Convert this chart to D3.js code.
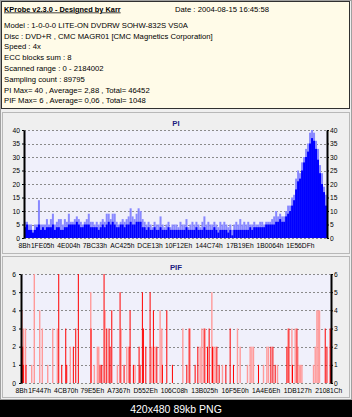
<!DOCTYPE html>
<html>
<head>
<meta charset="utf-8">
<script src="https://cdn.jsdelivr.net/npm/d3@7"></script>
<style>
body{margin:0;background:#000;}
svg{display:block;}
text{font-family:"Liberation Sans",Arial,sans-serif;}
</style>
</head>
<body>
<div id="chart"></div>
<script>
var headerTitle="KProbe v2.3.0 - Designed by Karr";
var headerDate="Date : 2004-08-15 16:45:58";
var headerLines=[
	"Model : 1-0-0-0 LITE-ON DVDRW SOHW-832S  VS0A",
	"Disc : DVD+R , CMC MAGR01 [CMC Magnetics Corporation]",
	"Speed : 4x",
	"ECC blocks sum : 8",
	"Scanned range : 0 - 2184002",
	"Sampling count : 89795",
	"PI Max= 40 , Average= 2,88 , Total= 46452",
	"PIF Max= 6 , Average= 0,06 , Total= 1048"
];
var footerText="420x480 89kb PNG";

// LBA range of the scan
var lbaStart=0x8B;
var lbaEnd=2184002;

// x tick labels (hex LBA)
var piTicks=[0x8B,0x1FE05,0x4E004,0x7BC33,0xAC425,0xDCE13,0x10F12E,0x144C74,0x17B19E,0x1B0064,0x1E56DF];
var pifTicks=[0x8B,0x1F447,0x4CB70,0x79E5E,0xA7367,0xD552E,0x106C08,0x13B025,0x16F5E0,0x1A4E6E,0x1DB127,0x21081C];
var piYTicks=[0,5,10,15,20,25,30,35,40];
var pifYTicks=[0,1,2,3,4,5,6];

// PI per sample bin (even bins over the scanned range): peak and body
var piPeak=[
	6,6,5,5,3,5,5,14,5,5,
	5,7,5,7,9,5,6,7,7,5,7,6,9,
	6,6,7,8,7,6,5,6,7,9,6,6,5,
	6,5,6,7,6,9,9,7,9,9,6,5,6,7,6,
	7,8,11,8,7,9,11,10,7,6,
	5,6,5,4,6,5,5,8,5,4,5,6,4,5,5,
	5,4,6,5,5,7,4,5,6,5,6,5,4,6,8,
	5,6,5,5,6,5,4,6,5,6,5,4,5,3,5,6,5,7,5,6,
	5,6,5,5,6,5,5,6,6,5,6,6,6,7,
	8,10,8,9,8,8,10,12,12,15,16,
	22,25,24,28,30,33,35,39,40,39,36,33,27,24,19,16
];
var piBody=[
	4,5,3,3,2,3,4,5,3,4,
	3,4,4,4,5,3,4,4,3,3,4,4,5,
	5,5,5,6,5,4,4,5,5,5,4,4,4,
	4,3,4,5,4,5,6,5,6,5,4,4,5,5,4,
	5,5,6,5,5,6,6,6,4,4,
	3,4,3,3,4,3,3,4,3,3,3,4,3,3,3,
	3,3,3,3,3,4,3,3,3,3,4,3,3,3,4,
	3,3,3,3,4,3,2,3,3,3,3,2,3,1,3,3,3,3,3,3,
	3,3,4,3,4,4,4,4,4,4,5,5,5,5,
	5,6,6,7,6,6,8,9,10,12,14,
	18,21,22,25,28,30,32,35,37,36,33,29,24,20,17,12
];

// PIF hits: LBA and count (strong and faint strokes)
var pifHitLba=[3700,7200,12100,16400,35400,265900,287100,315300,322300,368900,385800,404100,493600,557100,569100,585300,604300,620500,627600,639600,698100,726300,761500,768600,791900,832000,839100,855300,862400,879300,909600,932900,956800,996300,1027300,1066800,1168300,1184500,1226800,1245900,1290300,1313600,1325500,1348800,1379800,1396000,1443300,1473600,1496900,1673100,1760500,1774600,1790800,1873300,1887400,1912800,1943800,2143300,2155300,2178600,2183800];
var pifHitVal=[2,1,2,1,1,6,1,3,1,2,3,6,3,1,1,6,3,3,2,4,5,1,2,4,1,2,1,5,3,2,5,4,2,1,4,1,1,3,1,2,3,2,3,2,2,1,1,3,1,1,2,2,1,2,3,1,3,3,2,3,1];
var pifFaintLba=[7200,17800,31900,75600,93900,132000,150300,188400,223600,256100,347700,491500,516900,538100,547900,592300,679100,705100,745300,803800,921600,944800,980100,992100,1140100,1191600,1262100,1274100,1297300,1344600,1355900,1367800,1419300,1525100,1544100,1595600,1614600,1626600,1637900,1708400,1732300,1743600,1807100,1880400,1908600,1931800,1950900,1960000,1969200,1979100,2060900,2072800,2084800,2094000,2103200,2178600];
var pifFaintVal=[4,3,3,1,6,4,3,1,3,3,2,5,1,2,2,4,1,3,2,1,2,2,4,3,3,3,2,3,3,5,2,2,1,3,2,1,2,2,2,1,2,2,1,3,3,3,2,1,1,1,1,2,4,4,4,3];

var W=352,H=417;
var fs=7.7;
var axisFs=6.7;
var svg=d3.select("#chart").append("svg").attr("width",W).attr("height",H);

function hexLabel(v){ return v.toString(16).toUpperCase()+"h"; }
var intLabel=d3.format("d");

function drawBackground(){
	svg.append("rect").attr("x",0).attr("y",0).attr("width",W).attr("height",400).attr("fill","#efefef");
	svg.append("rect").attr("x",0.5).attr("y",0.5).attr("width",W-1).attr("height",399).attr("fill","none").attr("stroke","#a0a0a0");
	svg.append("rect").attr("x",0).attr("y",400).attr("width",W).attr("height",H-400).attr("fill","#000");
	svg.append("text").attr("x",176).attr("y",413).attr("text-anchor","middle")
		.attr("font-size",10.5).attr("fill","#fff").text(footerText);
}

function drawHeader(){
	var g=svg.append("g");
	g.append("rect").attr("x",1.5).attr("y",1.5).attr("width",348).attr("height",107)
		.attr("fill","#fffbe8").attr("stroke","#303030");
	g.append("text").attr("x",4).attr("y",11.5).attr("font-size",7.4).attr("font-weight","bold")
		.attr("text-decoration","underline").attr("fill","#000").text(headerTitle);
	g.append("text").attr("x",175).attr("y",11.5).attr("font-size",fs).attr("fill","#000").text(headerDate);
	g.selectAll("text.line").data(headerLines).enter().append("text")
		.attr("class","line")
		.attr("x",4)
		.attr("y",function(d,i){ return 27.8+i*10.8; })
		.attr("font-size",fs)
		.attr("fill","#000")
		.text(function(d){ return d; });
}

function drawPanel(c){
	var g=svg.append("g");
	g.append("rect").attr("x",2.5).attr("y",c.top+0.5).attr("width",W-5).attr("height",c.height)
		.attr("fill","#efefef").attr("stroke","#b8b8b8");
	g.append("text").attr("x",176).attr("y",c.titleY).attr("text-anchor","middle")
		.attr("font-size",7.8).attr("font-weight","bold").attr("fill","#1c1c80").text(c.title);

	var x=d3.scaleLinear().domain([lbaStart,lbaEnd]).range([c.x0,c.x1]);
	var y=d3.scaleLinear().domain([0,c.yMax]).range([c.y1,c.y0]);

	g.append("rect").attr("x",c.x0).attr("y",c.y0).attr("width",c.x1-c.x0).attr("height",c.y1-c.y0)
		.attr("fill","#f0f0fb");

	// dashed grid
	g.selectAll("line.grid").data(c.yTicks).enter().append("line")
		.attr("class","grid")
		.attr("x1",c.x0).attr("x2",c.x1)
		.attr("y1",function(d){ return Math.round(y(d))+0.5; })
		.attr("y2",function(d){ return Math.round(y(d))+0.5; })
		.attr("stroke","#8a8a8a").attr("stroke-dasharray","2,2");

	c.drawMarks(g,x,y);

	var left=g.append("g").attr("transform","translate("+c.x0+",0)")
		.call(d3.axisLeft(y).tickValues(c.yTicks).tickFormat(intLabel).tickSize(2).tickPadding(c.pad).tickSizeOuter(0));
	var right=g.append("g").attr("transform","translate("+c.x1+",0)")
		.call(d3.axisRight(y).tickValues(c.yTicks).tickFormat(intLabel).tickSize(2).tickPadding(1).tickSizeOuter(0));
	var bottom=g.append("g").attr("transform","translate(0,"+c.y1+")")
		.call(d3.axisBottom(x).tickValues(c.xTicks).tickFormat(hexLabel).tickSize(0).tickPadding(c.xPad));
	[left,right].forEach(function(a){
		a.select(".domain").attr("stroke","#000").attr("stroke-width",2);
		a.selectAll("line").attr("stroke","#000");
		a.selectAll("text").attr("font-size",axisFs).attr("font-family","Liberation Sans, Arial, sans-serif").attr("fill","#000");
	});
	bottom.select(".domain").remove();
	bottom.selectAll("text").attr("font-size",axisFs).attr("font-family","Liberation Sans, Arial, sans-serif").attr("fill","#000");
}

function drawPI(g,x,y){
	var step=(lbaEnd-lbaStart)/piPeak.length;
	var bw=x(lbaStart+step)-x(lbaStart);
	g.selectAll("rect.peak").data(piPeak).enter().append("rect")
		.attr("class","peak")
		.attr("x",function(d,i){ return x(lbaStart+i*step); })
		.attr("y",function(d){ return y(d); })
		.attr("width",bw)
		.attr("height",function(d){ return y(0)-y(d); })
		.attr("fill","#8888ff");
	g.selectAll("rect.body").data(piBody).enter().append("rect")
		.attr("class","body")
		.attr("x",function(d,i){ return x(lbaStart+i*step); })
		.attr("y",function(d){ return y(d); })
		.attr("width",bw)
		.attr("height",function(d){ return y(0)-y(d); })
		.attr("fill","#0000ff");
}

function drawPIF(g,x,y){
	g.selectAll("rect.faint").data(pifFaintVal).enter().append("rect")
		.attr("class","faint")
		.attr("x",function(d,i){ return x(pifFaintLba[i])-0.7; })
		.attr("y",function(d){ return y(d); })
		.attr("width",1.4)
		.attr("height",function(d){ return y(0)-y(d); })
		.attr("fill","#ff9a9a");
	g.selectAll("rect.hit").data(pifHitVal).enter().append("rect")
		.attr("class","hit")
		.attr("x",function(d,i){ return x(pifHitLba[i])-0.5; })
		.attr("y",function(d){ return y(d); })
		.attr("width",1)
		.attr("height",function(d){ return y(0)-y(d); })
		.attr("fill","#ff0000");
}

drawBackground();
drawHeader();
drawPanel({title:"PI",top:112,height:141,titleY:125.5,x0:24,x1:327,y0:130,y1:238,yMax:40,
	yTicks:piYTicks,xTicks:piTicks,pad:2,xPad:5.5,drawMarks:drawPI});
drawPanel({title:"PIF",top:256,height:141,titleY:270,x0:21,x1:331,y0:274,y1:383,yMax:6,
	yTicks:pifYTicks,xTicks:pifTicks,pad:3,xPad:5.5,drawMarks:drawPIF});
</script>
</body>
</html>
